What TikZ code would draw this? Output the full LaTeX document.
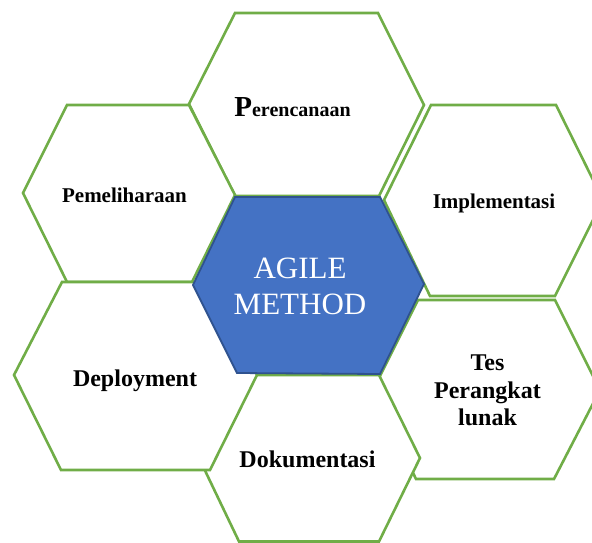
\documentclass[tikz,border=0pt]{standalone}
\usepackage{fontspec}
\setmainfont{Liberation Serif}
\definecolor{hexgreen}{HTML}{70AD47}
\definecolor{hexblue}{HTML}{4472C4}
\definecolor{hexblueedge}{HTML}{2F528F}
\begin{document}
\begin{tikzpicture}[x=1pt,y=-1pt,
  cell/.style={draw=hexgreen, line width=2.6pt, fill=white, line join=miter},
  core/.style={draw=hexblueedge, line width=1.8pt, fill=hexblue, line join=miter},
  lbl/.style={text=black, inner sep=0pt},
  lblsmall/.style={lbl, font=\fontsize{21}{25}\selectfont\bfseries},
  lblbig/.style={lbl, font=\fontsize{24}{27.5}\selectfont\bfseries},
  corelbl/.style={text=white, inner sep=0pt, align=center,
    font=\fontsize{31}{36}\selectfont}]
\useasboundingbox (0,0) rectangle (592,542);
\clip (0,0) rectangle (592,542);

% outer ring of cells
\draw[cell] (189,104) -- (235,13) -- (378,13) -- (424,105) -- (379,196) -- (235,196) -- cycle;
\draw[cell] (23,193) -- (67,105) -- (189,105) -- (235,195) -- (192,282) -- (67,282) -- cycle;
\draw[cell] (384,200) -- (431,105) -- (556,105) -- (603,200) -- (555,296) -- (430,296) -- cycle;
\draw[cell] (373,390) -- (418,300) -- (555,300) -- (600,390) -- (554,479) -- (416,479) -- cycle;
\draw[cell] (199,458) -- (239,375) -- (379,375) -- (420,458) -- (379,541.5) -- (239,541.5) -- cycle;
\draw[cell] (14,375) -- (62,282) -- (210,282) -- (257,375) -- (210,470) -- (61,470) -- cycle;

% central cell
\draw[core] (193,285) -- (235,197) -- (380,197) -- (424,284) -- (380,374) -- (237,373) -- cycle;

% labels
\node[lblsmall, anchor=base] (plan) at (292.5,116.5)
  {{\fontsize{29}{29}\selectfont P}{\fontsize{20}{24}\selectfont erencanaan}};
\node[lblsmall, anchor=base] (care) at (124.5,202) {Pemeliharaan};
\node[lblsmall, anchor=base] (impl) at (494,208) {Implementasi};
\node[lblbig, anchor=center, align=center] (test) at (487.5,390.5) {Tes\\Perangkat\\lunak};
\node[lblbig, anchor=base] (docs) at (307.5,467) {Dokumentasi};
\node[lblbig, anchor=base] (depl) at (135,386) {Deployment};
\node[corelbl, anchor=center] (agile) at (300,286) {AGILE\\METHOD};
\end{tikzpicture}
\end{document}
